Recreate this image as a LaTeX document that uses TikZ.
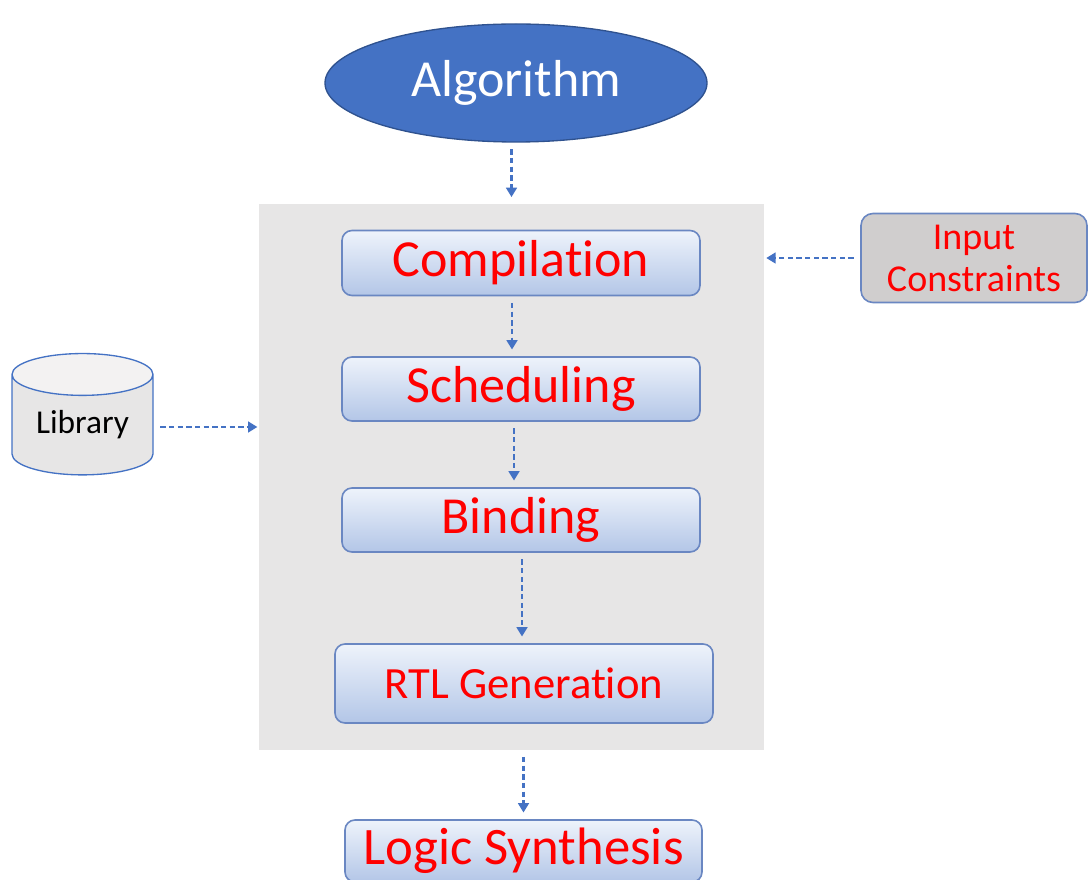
\documentclass[tikz,border=0pt]{standalone}
\usepackage{fontspec}
\setmainfont{Carlito}[Ligatures={NoCommon}]
\usepackage{xcolor}
\usepackage{tikz}
\usetikzlibrary{arrows.meta}
\usetikzlibrary{shapes.geometric}
\definecolor{algblue}{HTML}{4472C4}
\definecolor{algline}{HTML}{2F528F}
\definecolor{panelgray}{HTML}{E7E6E6}
\definecolor{inpgray}{HTML}{D0CECE}
\definecolor{boxtop}{HTML}{EEF3FB}
\definecolor{boxbot}{HTML}{B3C6E7}
\definecolor{boxline}{HTML}{6A87C2}
\definecolor{txtred}{HTML}{FF0000}
\newcommand{\bigtxt}{\fontsize{39}{46}\selectfont}

\begin{document}
\begin{tikzpicture}[x=0.75pt,y=-0.75pt]
\tikzstyle{step box}=[rectangle, rounded corners=7.5pt, draw=boxline, line width=1.2pt,
  top color=boxtop, bottom color=boxbot, text=txtred, inner sep=0pt, font=\bigtxt,
  minimum width=268.5pt, minimum height=48.75pt]
\tikzstyle{flow}=[draw=algblue, dashed, dash pattern=on 4pt off 2.5pt, line width=1.8pt,
  arrows={-Triangle[width=8pt,length=7pt]}, shorten <=5pt, shorten >=5pt]
\useasboundingbox (0,0) rectangle (1089,880);
% grey panel behind the steps
\node (panel) at (511.5,477) [rectangle, fill=panelgray, minimum width=378.75pt, minimum height=409.5pt] {};
\node (alg) at (516,83) [ellipse, fill=algblue, draw=algline, line width=1pt, text=white, inner sep=0pt,
  font=\bigtxt, minimum width=286.5pt, minimum height=88.5pt] {Algorithm};
\node (comp) at (521,263) [step box] {Compilation};
\node (sched) at (521,389) [step box, minimum height=48pt] {Scheduling};
\node (bind) at (521,520) [step box, minimum height=48pt] {Binding};
\node (rtl) at (524,683.5) [step box, minimum width=283.5pt, minimum height=59.25pt,
  font=\fontsize{33.5}{40}\selectfont] {RTL Generation};
\node (logic) at (523.5,851) [step box, minimum width=267.75pt, minimum height=46.5pt,
  font=\fontsize{39.5}{46}\selectfont] {Logic Synthesis};
\node (inp) at (974,258) [rectangle, rounded corners=9pt, fill=inpgray, draw=boxline, line width=1.2pt,
  text=txtred, align=center, inner sep=0pt, minimum width=169.5pt, minimum height=66.75pt,
  font=\fontsize{28.5}{31.5}\selectfont] {Input\\ Constraints};
\node (lib) at (82.5,425) [cylinder, shape border rotate=90, aspect=0.45, draw=algblue, line width=1pt,
  cylinder uses custom fill, cylinder body fill=panelgray, cylinder end fill=panelgray!50,
  inner sep=0pt, minimum width=105.75pt, minimum height=91pt, font=\fontsize{25}{30}\selectfont] {Library};
% connectors
\draw[flow] (alg.south -| panel.north) -- (panel.north);
\draw[flow] ([xshift=-6.75pt]comp.south) -- ([xshift=-6.75pt]sched.north);
\draw[flow] ([xshift=-5.25pt]sched.south) -- ([xshift=-5.25pt]bind.north);
\draw[flow] ([xshift=0.75pt]bind.south) -- ([xshift=0.75pt]bind.south |- rtl.north);
\draw[flow] ([xshift=9pt]panel.south) -- ([xshift=9pt]panel.south |- logic.north);
\draw[flow, shorten >=1.5pt] (inp.west) -- (inp.west -| panel.east);
\draw[flow, shorten >=1pt] ([yshift=-1.5pt]lib.east) -- ([yshift=-1.5pt]lib.east -| panel.west);
\end{tikzpicture}
\end{document}
